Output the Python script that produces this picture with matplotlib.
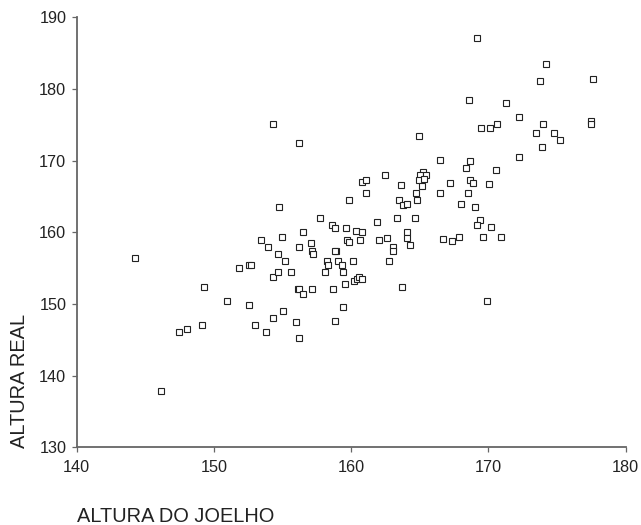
import matplotlib

matplotlib.use("Agg")
import matplotlib.pyplot as plt

plt.rcParams["font.family"] = ["Liberation Sans", "DejaVu Sans"]

# Altura do joelho (estimada) vs altura real
altura_joelho = [
    144.27, 146.14, 147.48, 148.02, 149.15, 149.25, 150.93, 151.85, 152.58, 152.68,
    152.58, 153.00, 153.82, 154.33, 155.06, 156.00, 156.22, 154.33, 154.65, 155.60,
    155.18, 154.65, 153.92, 156.22, 157.05, 157.15, 157.25, 156.11, 156.22, 156.52,
    157.15, 154.33, 156.22, 154.77, 157.70, 156.52, 153.41, 154.96, 159.72, 159.85,
    158.90, 158.83, 158.26, 158.31, 158.07, 159.02, 159.34, 159.43, 160.16, 159.53,
    158.70, 159.43, 158.83, 160.23, 160.45, 160.60, 160.77, 163.08, 163.08, 162.76,
    164.32, 163.71, 169.93, 169.20, 174.18, 173.77, 177.61, 168.57, 171.27, 172.22,
    169.49, 170.12, 170.66, 173.99, 177.49, 177.49, 173.45, 174.80, 175.25, 173.87,
    172.22, 164.95, 166.48, 168.67, 168.38, 170.54, 165.24, 165.02, 165.46, 164.95,
    165.34, 165.15, 162.45, 160.77, 161.11, 161.11, 159.85, 163.60, 164.73, 164.83,
    163.47, 163.81, 164.10, 166.48, 167.23, 168.69, 168.89, 170.03, 168.48, 167.98,
    169.00, 169.42, 169.20, 170.22, 169.61, 170.95, 166.70, 167.33, 167.84, 158.61,
    158.80, 159.65, 160.36, 160.80, 161.91, 163.37, 164.63, 164.07, 164.07, 162.03,
    162.64, 160.65,
]
altura_real = [
    156.45, 137.90, 146.05, 146.47, 147.00, 152.40, 150.41, 154.98, 155.40, 155.40,
    149.80, 147.00, 146.05, 148.04, 149.02, 147.44, 145.25, 153.80, 154.42, 154.42,
    156.00, 157.00, 158.00, 158.00, 158.55, 157.43, 157.00, 152.05, 152.05, 151.43,
    152.05, 175.07, 172.50, 163.53, 161.98, 160.00, 158.97, 159.35, 158.97, 158.60,
    157.40, 157.40, 156.04, 155.40, 154.42, 156.04, 155.40, 154.42, 156.04, 152.83,
    152.05, 149.62, 147.67, 153.25, 153.49, 153.72, 153.44, 158.00, 157.40, 156.00,
    158.20, 152.41, 150.41, 187.07, 183.44, 181.07, 181.43, 178.46, 178.08, 176.09,
    174.51, 174.51, 175.07, 175.07, 175.60, 175.10, 173.90, 173.90, 172.88, 171.90,
    170.51, 173.48, 170.13, 169.90, 168.93, 168.73, 168.37, 168.00, 168.00, 167.30,
    167.44, 166.50, 167.95, 166.98, 167.30, 165.52, 164.55, 166.55, 165.52, 164.55,
    164.55, 163.77, 163.99, 165.52, 166.92, 167.30, 166.92, 166.74, 165.52, 163.95,
    163.58, 161.76, 160.98, 160.78, 159.35, 159.35, 159.02, 158.78, 159.35, 160.98,
    160.56, 160.56, 160.18, 160.00, 161.40, 161.95, 161.95, 160.00, 159.20, 158.97,
    159.20, 158.97,
]
x_ticks = [140, 150, 160, 170, 180]
y_ticks = [130, 140, 150, 160, 170, 180, 190]

fig = plt.figure(figsize=(6.41, 5.25), dpi=100)
ax = fig.add_axes([0.1197, 0.148, 0.8564, 0.819])

ax.plot(altura_joelho, altura_real, linestyle="none", marker="s", markersize=4.2,
        markerfacecolor="white", markeredgecolor="#222222", markeredgewidth=0.8)

ax.set_xlim(140, 180)
ax.set_ylim(130, 190)
ax.set_xticks(x_ticks)
ax.set_yticks(y_ticks)

for side in ("top", "right"):
    ax.spines[side].set_visible(False)
for side in ("left", "bottom"):
    ax.spines[side].set_color("#666666")
    ax.spines[side].set_linewidth(1.3)

ax.tick_params(direction="out", length=3.5, width=0.9, color="#666666",
               labelsize=11.7, labelcolor="#222222", pad=4)
ax.tick_params(axis="x", pad=6)

fig.text(0.031, 1 - 448 / 525, "ALTURA REAL", rotation=90, ha="center", va="bottom",
         fontsize=14.4, color="#222222")
fig.text(76.7 / 641, 1 - 516 / 525, "ALTURA DO JOELHO", ha="left", va="center",
         fontsize=14.4, color="#222222")

fig.savefig("out.png", dpi=100, facecolor="white")
